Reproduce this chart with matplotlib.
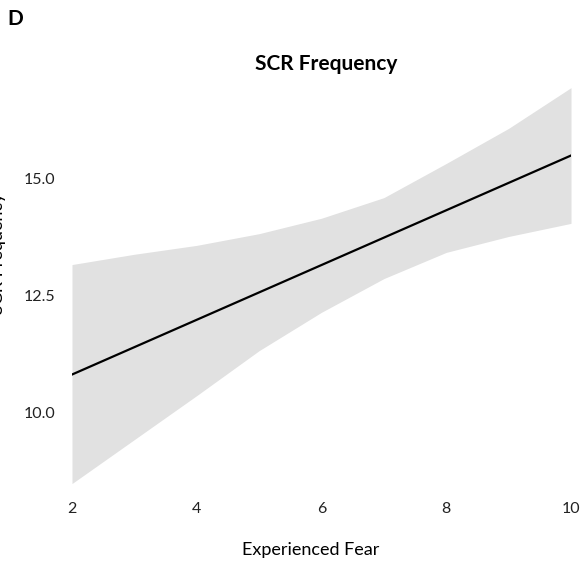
import numpy as np
import matplotlib.pyplot as plt

plt.rcParams['font.family'] = ['Lato', 'DejaVu Sans']

# Fitted line and confidence band for SCR frequency vs experienced fear
fear = [2, 3, 4, 5, 6, 7, 8, 9, 10]
fit_start, fit_end = 10.81, 15.49
ci_upper = [13.16, 13.38, 13.57, 13.82, 14.15, 14.59, 15.32, 16.07, 16.94]
ci_lower = [8.48, 9.42, 10.36, 11.32, 12.14, 12.86, 13.42, 13.76, 14.04]

W, H = 587, 563
fig = plt.figure(figsize=(W / 100, H / 100), dpi=100)

# axes placed in pixel terms: x 2..10 -> px 72..571, y 8.3..17.36 -> px 492..68
ax = fig.add_axes([72 / W, 1 - 492 / H, (571 - 72) / W, (492 - 68) / H])
ax.fill_between(fear, ci_lower, ci_upper, color='#e1e1e1', linewidth=0)
ax.plot([fear[0], fear[-1]], [fit_start, fit_end], color='black', linewidth=1.6)

ax.set_xlim(2, 10)
ax.set_ylim(8.3, 17.36)
ax.set_xticks([2, 4, 6, 8, 10])
ax.set_yticks([10.0, 12.5, 15.0])
ax.set_yticklabels(['10.0', '12.5', '15.0'])
for s in ax.spines.values():
    s.set_visible(False)
ax.tick_params(length=0, labelsize=11.5, colors='#222222')
ax.tick_params(axis='x', pad=7)
ax.tick_params(axis='y', pad=12)
ax.patch.set_alpha(0)

fig.text(326 / W, 1 - 64 / H, 'SCR Frequency', fontsize=15, fontweight='bold',
         ha='center', va='center')
fig.text(311 / W, 1 - 550 / H, 'Experienced Fear', fontsize=13,
         ha='center', va='center')
fig.text(-2 / W, 1 - 253 / H, 'SCR Frequency', rotation=90, fontsize=13,
         ha='center', va='center')
fig.text(7 / W, 1 - 19 / H, 'D', fontsize=15, fontweight='bold', ha='left', va='center')

fig.savefig('out.png', dpi=100)
